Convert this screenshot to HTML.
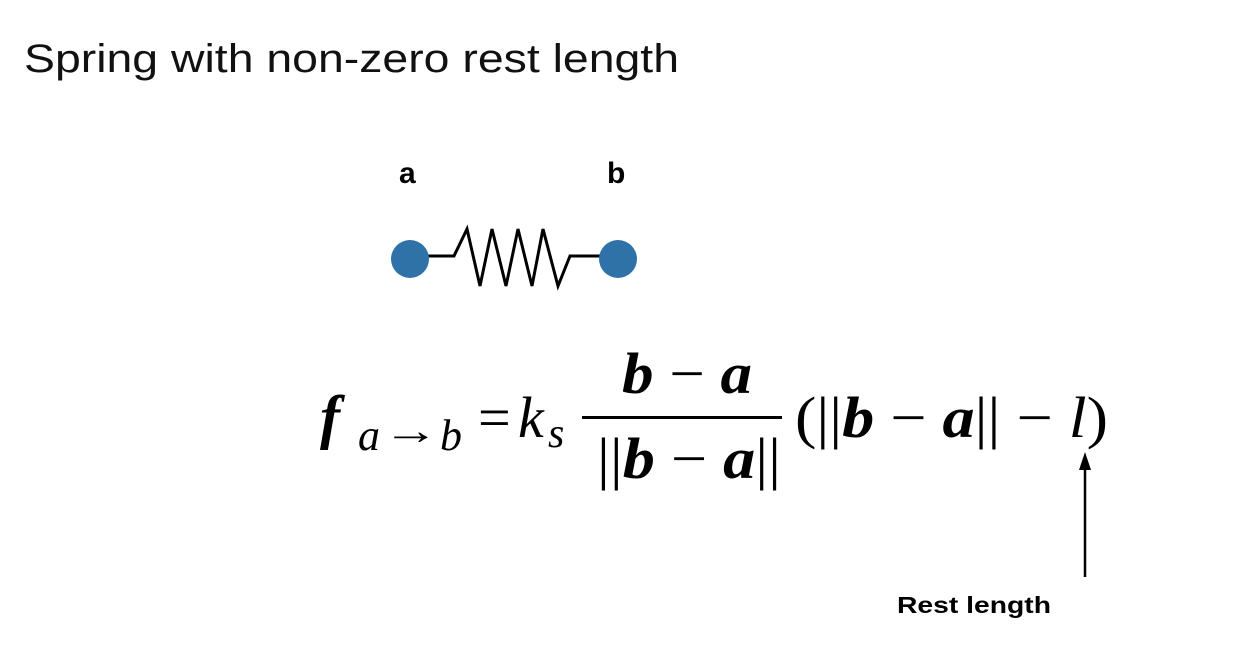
<!DOCTYPE html>
<html><head><meta charset="utf-8"><style>
html,body{margin:0;padding:0;background:#fff;}
svg{display:block;}
</style></head><body>
<svg width="1242" height="648" viewBox="0 0 1242 648" xmlns="http://www.w3.org/2000/svg">
<text x="24" y="72" font-family="Liberation Sans, sans-serif" font-size="40" fill="#111" textLength="655" lengthAdjust="spacingAndGlyphs">Spring with non-zero rest length</text>
<text x="399" y="183" font-family="Liberation Sans, sans-serif" font-weight="bold" font-size="30" fill="#000">a</text>
<text x="607" y="183" font-family="Liberation Sans, sans-serif" font-weight="bold" font-size="30" fill="#000">b</text>
<polyline points="428,256 454,256 467,229 480,286 492,229 506,286 518,229 532,286 543,229 558,286 570,256 600,256" fill="none" stroke="#000" stroke-width="3"/>
<circle cx="410" cy="259" r="19" fill="#2f72a8"/>
<circle cx="618" cy="259" r="19" fill="#2f72a8"/>
<g font-family="Liberation Serif, serif" fill="#000">
<text x="320" y="437" font-size="60" font-style="italic" font-weight="bold">f</text>
<text x="358" y="450" font-size="44" font-style="italic">a</text>
<text x="383" y="444" font-size="40" textLength="56" lengthAdjust="spacingAndGlyphs">→</text>
<text x="440" y="450" font-size="44" font-style="italic">b</text>
<text x="478" y="437" font-size="58">=</text>
<text x="518" y="437" font-size="58" font-style="italic">k</text>
<text x="548" y="447" font-size="42" font-style="italic">s</text>
<rect x="582" y="416" width="200" height="3"/>
<text x="622" y="393" font-size="58" font-weight="bold" font-style="italic" textLength="130" lengthAdjust="spacingAndGlyphs">b <tspan font-weight="normal" font-style="normal">−</tspan> a</text>
<text x="597" y="478" font-size="58" textLength="184" lengthAdjust="spacingAndGlyphs">||<tspan font-weight="bold" font-style="italic">b</tspan> − <tspan font-weight="bold" font-style="italic">a</tspan>||</text>
<text x="795" y="437" font-size="58" textLength="313" lengthAdjust="spacingAndGlyphs">(||<tspan font-weight="bold" font-style="italic">b</tspan> − <tspan font-weight="bold" font-style="italic">a</tspan>|| − <tspan font-style="italic">l</tspan>)</text>
</g>
<line x1="1085" y1="577" x2="1085" y2="468" stroke="#000" stroke-width="2.5"/>
<polygon points="1085,452 1079,470 1091,470" fill="#000"/>
<text x="897" y="613" font-family="Liberation Sans, sans-serif" font-weight="bold" font-size="23" fill="#000" textLength="154" lengthAdjust="spacingAndGlyphs">Rest length</text>
</svg>
</body></html>
